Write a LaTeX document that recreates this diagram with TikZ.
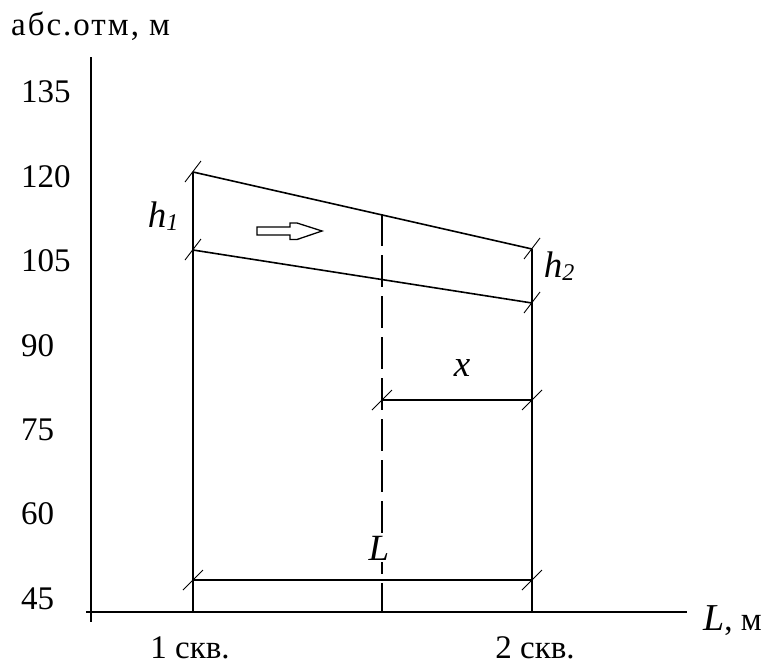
\documentclass[tikz,border=0pt]{standalone}
\usepackage{fontspec}
\setmainfont{Liberation Serif}
\newcommand\tickH[1]{\draw[tk] ([shift={(-10,10)}]#1) -- ([shift={(10,-10)}]#1);}
\newcommand\tickS[1]{\draw[tk] ([shift={(-8,10)}]#1) -- ([shift={(8,-11)}]#1);}
\begin{document}
\begin{tikzpicture}[x=1pt,y=-1pt,
  ln/.style={line width=1.6pt},
  tk/.style={line width=0.9pt},
  dsh/.style={line width=1.6pt, dash pattern=on 32pt off 9pt},
  lbl/.style={font=\fontsize{33}{36}\selectfont, inner sep=0pt},
  ilbl/.style={font=\fontsize{37}{40}\selectfont\itshape, inner sep=0pt}]
\useasboundingbox (0,0) rectangle (774,664);
% axes
\coordinate (ytop) at (91,57);
\coordinate (ybot) at (91,622);
\coordinate (xleft) at (86,612);
\coordinate (xright) at (687,612);
\draw[ln] (ytop) -- (ybot);
\draw[ln] (xleft) -- (xright);
\node[lbl, anchor=base west] (ylab) at (11,35) {\addfontfeature{LetterSpace=6}абс.отм, м};
\node[lbl, anchor=base west] (xlab) at (703,630) {{\fontsize{38}{40}\selectfont\itshape L}, м};
% tick labels
\foreach \v/\yy in {135/92.2,120/176.6,105/261,90/345.4,75/429.8,60/514,45/598.5}
  \node[lbl, anchor=west] (t\v) at (21,\yy) {\v};
% wells
\coordinate (w1t) at (193,172);
\coordinate (w1b) at (193,250);
\coordinate (w1g) at (193,612);
\coordinate (w2t) at (532,249);
\coordinate (w2b) at (532,303);
\coordinate (w2g) at (532,612);
\coordinate (dtop) at (382,214);
\coordinate (dg) at (382,612);
\coordinate (xl) at (382,400);
\coordinate (xr) at (532,400);
\coordinate (Ll) at (193,580);
\coordinate (Lr) at (532,580);
\draw[ln] (w1t) -- (w1g);
\draw[ln] (w2t) -- (w2g);
\draw[ln] (w1t) -- (w2t);
\draw[ln] (w1b) -- (w2b);
\draw[dsh] (dtop) -- (dg);
\draw[ln] (xl) -- (xr);
\draw[ln] (Ll) -- (Lr);
% ticks
\tickS{w1t} \tickS{w1b} \tickS{w2t} \tickS{w2b}
\tickH{xl} \tickH{xr} \tickH{Ll} \tickH{Lr}
% labels
\node[ilbl] (h1) at (163,216) {h\raisebox{-0.15ex}{\fontsize{24}{24}\selectfont 1}};
\node[ilbl] (h2) at (559,266) {h\raisebox{-0.15ex}{\fontsize{24}{24}\selectfont 2}};
\node[ilbl] (xlbl) at (462,368) {x};
\node[ilbl, fill=white, inner sep=2pt] (Llbl) at (379,548) {L};
\node[lbl, anchor=base] (s1) at (190,658) {1 скв.};
\node[lbl, anchor=base] (s2) at (535,658) {2 скв.};
% flow arrow
\draw[line width=1.3pt] (257,227) -- (290,227) -- (290,223) -- (297,223) -- (322,231)
  -- (297,239.5) -- (290,239.5) -- (290,235) -- (257,235) -- cycle;
\end{tikzpicture}
\end{document}
